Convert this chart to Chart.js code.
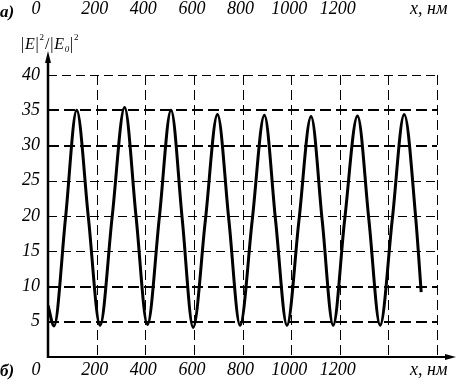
<!DOCTYPE html>
<html>
<head>
<meta charset="utf-8">
<script src="https://cdn.jsdelivr.net/npm/chart.js@4.4.0/dist/chart.umd.min.js"></script>
<style>
  html, body { margin: 0; padding: 0; background: #fff; }
  #wrap { width: 456px; height: 385px; }
</style>
</head>
<body>
<div id="wrap"><canvas id="chart"></canvas></div>
<script>
// values: x in nm, intensity |E|^2/|E0|^2
const xNm = [0, 25, 72, 118, 166, 214, 264, 315, 362, 409, 458, 506, 552, 597, 647, 697,
             744, 790, 840, 890, 936, 983, 1032, 1082, 1128, 1173, 1220, 1273, 1320, 1366,
             1416, 1465, 1513, 1535];
const intensity = [7.3, 4.4, 19.7, 35.0, 19.8, 4.5, 19.9, 35.4, 20.0, 4.6, 19.8, 35.0, 19.6, 4.2, 19.3, 34.4,
                   19.4, 4.5, 19.4, 34.3, 19.4, 4.5, 19.3, 34.1, 19.3, 4.5, 19.4, 34.2, 19.4, 4.5,
                   19.5, 34.4, 19.5, 9.2];
const yTicks = [5, 10, 15, 20, 25, 30, 35, 40];
const xGrid = [200, 400, 600, 800, 1000, 1200, 1400, 1600];
const xTickLabels = [0, 200, 400, 600, 800, 1000, 1200];
const xUnit = "x, нм";

const boldLevels = [5, 10, 30, 35];   // heavier dashed lines
const serif = '"Liberation Serif", "Times New Roman", serif';

const decorations = {
    id: "decorations",
    beforeDatasetsDraw(chart) {
        const ctx = chart.ctx;
        const xs = chart.scales.x, ys = chart.scales.y;
        const area = chart.chartArea;
        const right = xs.getPixelForValue(1600);
        const top = ys.getPixelForValue(40);
        ctx.save();
        ctx.strokeStyle = "#000";

        // horizontal grid
        yTicks.forEach(v => {
            const thick = boldLevels.includes(v);
            const y = Math.round(ys.getPixelForValue(v)) + (thick ? 0 : 0.5);
            ctx.lineWidth = thick ? 2 : 1;
            ctx.setLineDash(thick ? [11, 5] : [9, 5]);
            ctx.beginPath();
            ctx.moveTo(area.left, y);
            ctx.lineTo(right, y);
            ctx.stroke();
        });

        // vertical grid
        ctx.lineWidth = 1;
        ctx.setLineDash([10, 5]);
        xGrid.forEach(v => {
            const x = Math.round(xs.getPixelForValue(v)) + 0.5;
            ctx.beginPath();
            ctx.moveTo(x, top);
            ctx.lineTo(x, area.bottom);
            ctx.stroke();
        });
        ctx.restore();
    },
    afterDraw(chart) {
        const ctx = chart.ctx;
        const xs = chart.scales.x;
        const area = chart.chartArea;
        const x0 = area.left, y0 = area.bottom;
        ctx.save();
        ctx.strokeStyle = "#000";
        ctx.fillStyle = "#000";
        ctx.setLineDash([]);

        // y axis with arrow
        ctx.lineWidth = 2.5;
        ctx.beginPath();
        ctx.moveTo(x0, y0 + 1);
        ctx.lineTo(x0, 60);
        ctx.stroke();
        ctx.beginPath();
        ctx.moveTo(x0, 51);
        ctx.lineTo(x0 - 3, 63);
        ctx.lineTo(x0 + 3, 63);
        ctx.closePath();
        ctx.fill();

        // x axis with arrow
        ctx.lineWidth = 2;
        ctx.beginPath();
        ctx.moveTo(x0, y0);
        ctx.lineTo(448, y0);
        ctx.stroke();
        ctx.beginPath();
        ctx.moveTo(456, y0);
        ctx.lineTo(445, y0 - 3);
        ctx.lineTo(445, y0 + 3);
        ctx.closePath();
        ctx.fill();

        // x labels, top and bottom
        ctx.font = "italic 18px " + serif;
        ctx.textAlign = "center";
        ctx.textBaseline = "alphabetic";
        xTickLabels.forEach(v => {
            const x = xs.getPixelForValue(v) + (v === 0 ? -12 : -2);
            ctx.fillText(String(v), x, 14);
            ctx.fillText(String(v), x, 375);
        });
        ctx.textAlign = "left";
        ctx.fillText(xUnit, 410, 14);
        ctx.fillText(xUnit, 410, 375);

        // panel letters
        ctx.font = "bold italic 17px " + serif;
        ctx.fillText("а)", 0, 17);
        ctx.fillText("б)", 0, 376);

        // y label |E|^2/|E0|^2
        const parts = [
            ["|", "16px", 0], ["E", "italic 16px", 0], ["|", "16px", 0], ["2", "9px", -9],
            ["/", "16px", 0], ["|", "16px", 0], ["E", "italic 16px", 0], ["0", "italic 9px", 3],
            ["|", "16px", 0], ["2", "9px", -9]
        ];
        let px = 21;
        const base = 49;
        parts.forEach(([t, f, dy]) => {
            ctx.font = f + " " + serif;
            ctx.fillText(t, px, base + dy);
            px += ctx.measureText(t).width + 0.8;
        });
        ctx.restore();
    }
};

new Chart(document.getElementById("chart"), {
    type: "line",
    data: {
        datasets: [{
            data: xNm.map((x, i) => ({ x: x, y: intensity[i] })),
            borderColor: "#000",
            borderWidth: 3,
            pointRadius: 0,
            fill: false,
            cubicInterpolationMode: "monotone"
        }]
    },
    options: {
        responsive: true,
        maintainAspectRatio: false,
        animation: false,
        events: [],
        layout: { padding: { top: 75, right: 19, bottom: 28, left: 0 } },
        plugins: { legend: { display: false }, tooltip: { enabled: false } },
        scales: {
            x: { type: "linear", min: 0, max: 1600, display: false },
            y: {
                min: 0,
                max: 40,
                afterFit(scale) { scale.width = 48; },
                grid: { display: false, drawTicks: false },
                border: { display: false },
                ticks: {
                    stepSize: 5,
                    padding: 8,
                    color: "#000",
                    font: { family: serif, style: "italic", size: 18 },
                    callback: v => (v === 0 ? "" : v)
                }
            }
        }
    },
    plugins: [decorations]
});
</script>
</body>
</html>
